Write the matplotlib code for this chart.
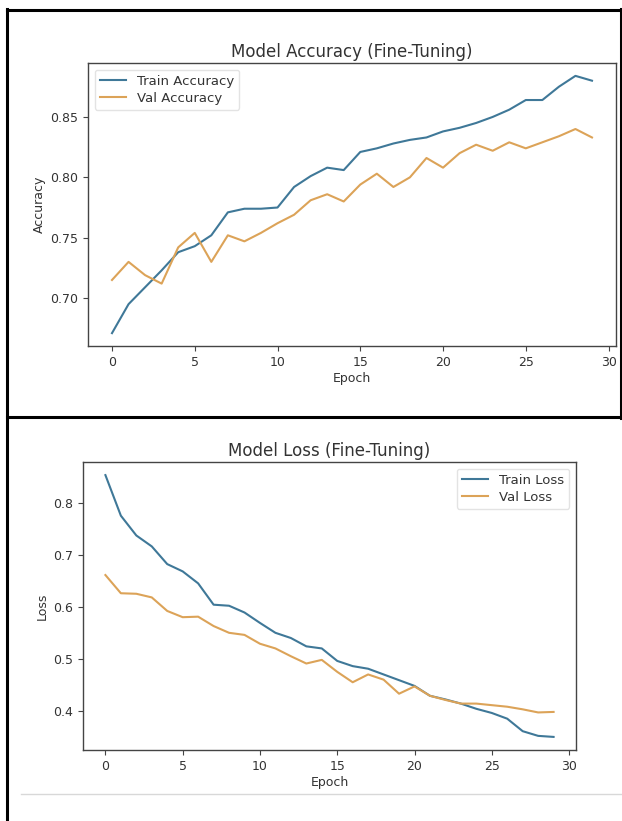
import matplotlib
matplotlib.use("Agg")
import matplotlib.pyplot as plt
from matplotlib.lines import Line2D

epochs = list(range(30))
train_acc = [0.671, 0.695, 0.709, 0.723, 0.738, 0.743, 0.752, 0.771, 0.774, 0.774,
             0.775, 0.792, 0.801, 0.808, 0.806, 0.821, 0.824, 0.828, 0.831, 0.833,
             0.838, 0.841, 0.845, 0.850, 0.856, 0.864, 0.864, 0.875, 0.884, 0.880]
val_acc = [0.715, 0.730, 0.719, 0.712, 0.742, 0.754, 0.730, 0.752, 0.747, 0.754,
           0.762, 0.769, 0.781, 0.786, 0.780, 0.794, 0.803, 0.792, 0.800, 0.816,
           0.808, 0.820, 0.827, 0.822, 0.829, 0.824, 0.829, 0.834, 0.840, 0.833]
train_loss = [0.853, 0.775, 0.737, 0.716, 0.682, 0.668, 0.645, 0.604, 0.602, 0.589,
              0.569, 0.550, 0.540, 0.524, 0.520, 0.496, 0.486, 0.481, 0.470, 0.459,
              0.448, 0.429, 0.422, 0.414, 0.404, 0.396, 0.385, 0.361, 0.352, 0.350]
val_loss = [0.661, 0.626, 0.625, 0.618, 0.592, 0.580, 0.581, 0.563, 0.550, 0.546,
            0.529, 0.520, 0.505, 0.491, 0.498, 0.475, 0.455, 0.470, 0.460, 0.433,
            0.447, 0.429, 0.421, 0.414, 0.414, 0.411, 0.408, 0.403, 0.397, 0.398]

TRAIN_C = "#3f7898"
VAL_C = "#dca358"
TXT = "#333333"

W, H = 622, 821
fig = plt.figure(figsize=(W / 100, H / 100), dpi=100)
fig.patch.set_facecolor("white")

def px_axes(l, t, r, b):
    return fig.add_axes([l / W, 1 - b / H, (r - l) / W, (b - t) / H])

def style(ax):
    for s in ax.spines.values():
        s.set_color("#444444")
        s.set_linewidth(1.0)
    ax.tick_params(colors="#444444", labelcolor=TXT, labelsize=9, length=3.5, width=0.8)

ax1 = px_axes(88, 63, 616, 346)
ax1.plot(epochs, train_acc, color=TRAIN_C, lw=1.5, label="Train Accuracy")
ax1.plot(epochs, val_acc, color=VAL_C, lw=1.5, label="Val Accuracy")
ax1.set_title("Model Accuracy (Fine-Tuning)", fontsize=12, color=TXT, pad=4)
ax1.set_xlabel("Epoch", fontsize=9, color=TXT, labelpad=2)
ax1.set_ylabel("Accuracy", fontsize=9, color=TXT, labelpad=3)
ax1.set_xticks([0, 5, 10, 15, 20, 25, 30])
ax1.set_yticks([0.70, 0.75, 0.80, 0.85])
ax1.set_yticklabels(["0.70", "0.75", "0.80", "0.85"])
style(ax1)
leg1 = ax1.legend(loc="upper left", fontsize=9.5, frameon=True, labelcolor=TXT,
                  borderpad=0.4, labelspacing=0.3, handlelength=2.0)
leg1.get_frame().set_edgecolor("#dddddd")

ax2 = px_axes(83, 462, 576, 750)
ax2.plot(epochs, train_loss, color=TRAIN_C, lw=1.5, label="Train Loss")
ax2.plot(epochs, val_loss, color=VAL_C, lw=1.5, label="Val Loss")
ax2.set_title("Model Loss (Fine-Tuning)", fontsize=12, color=TXT, pad=4)
ax2.set_xlabel("Epoch", fontsize=9, color=TXT, labelpad=2)
ax2.set_ylabel("Loss", fontsize=9, color=TXT, labelpad=3)
ax2.set_xticks([0, 5, 10, 15, 20, 25, 30])
ax2.set_yticks([0.4, 0.5, 0.6, 0.7, 0.8])
style(ax2)
leg2 = ax2.legend(loc="upper right", fontsize=9.5, frameon=True, labelcolor=TXT,
                  borderpad=0.4, labelspacing=0.3, handlelength=2.0)
leg2.get_frame().set_edgecolor("#dddddd")

# table-cell borders around the two pictures
def hline(y, x0, x1, color="black", lw=2.2):
    fig.add_artist(Line2D([x0 / W, x1 / W], [1 - y / H, 1 - y / H], color=color, lw=lw,
                          transform=fig.transFigure))

def vline(x, y0, y1, color="black", lw=2.2):
    fig.add_artist(Line2D([x / W, x / W], [1 - y0 / H, 1 - y1 / H], color=color, lw=lw,
                          transform=fig.transFigure))

hline(10, 7, 622)
hline(417.5, 7, 622)
vline(7, 9, 821)
vline(620.5, 9, 418)
hline(794, 21, 622, color="#d8d8d8", lw=1.0)

fig.savefig("out.png", dpi=100, facecolor="white")
